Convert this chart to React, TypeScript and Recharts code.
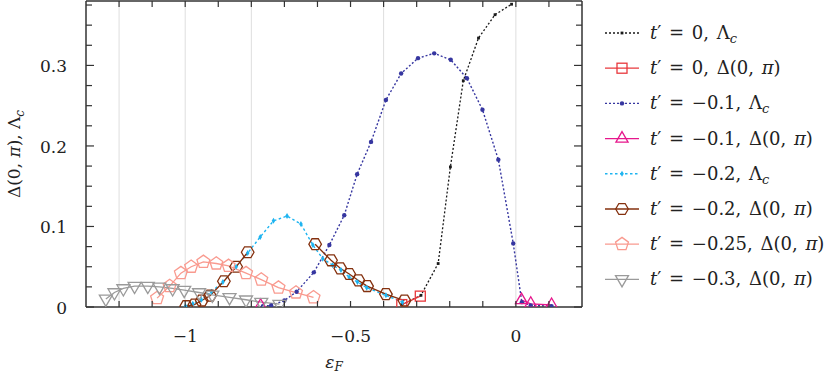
import React from 'react';
import { LineChart, Line, XAxis, YAxis, ReferenceLine } from 'recharts';

const FONT = '"DejaVu Serif", "Liberation Serif", serif';
const AXIS = '#333333';

// ---- data ----
const t0LambdaX = [-0.345, -0.287, -0.235, -0.198, -0.159, -0.113, -0.063, -0.013];
const t0LambdaY = [0.003, 0.0145, 0.054, 0.174, 0.281, 0.334, 0.363, 0.376];

const t0DeltaX = [-0.345, -0.289];
const t0DeltaY = [0.003, 0.0135];

const t01LambdaX = [-0.765, -0.74, -0.7, -0.663, -0.611, -0.564, -0.519, -0.48, -0.438, -0.393, -0.347, -0.296, -0.247, -0.197, -0.148, -0.101, -0.053, -0.008, 0.018, 0.045, 0.108];
const t01LambdaY = [0.001, 0.002, 0.008, 0.019, 0.043, 0.077, 0.114, 0.165, 0.205, 0.257, 0.29, 0.309, 0.315, 0.307, 0.284, 0.245, 0.183, 0.079, 0.006, 0.002, 0.001];

const t01DeltaX = [-0.772, -0.4, 0.017, 0.045, 0.108];
const t01DeltaY = [0.0015, null, 0.0085, 0.004, 0.0025];

const t02LambdaX = [-0.999, -0.977, -0.951, -0.921, -0.886, -0.846, -0.811, -0.773, -0.733, -0.692, -0.65, -0.614, -0.584, -0.554, -0.529, -0.504, -0.479, -0.451, -0.393, -0.343];
const t02LambdaY = [0.001, 0.004, 0.009, 0.019, 0.031, 0.05, 0.067, 0.087, 0.107, 0.113, 0.103, 0.077, 0.06, 0.052, 0.046, 0.037, 0.031, 0.024, 0.0145, 0.006];

const t02DeltaX = [-0.997, -0.972, -0.95, -0.925, -0.883, -0.846, -0.811, -0.7, -0.607, -0.559, -0.531, -0.504, -0.476, -0.45, -0.393, -0.337];
const t02DeltaY = [0.001, 0.003, 0.008, 0.014, 0.032, 0.05, 0.068, null, 0.078, 0.058, 0.048, 0.041, 0.033, 0.026, 0.016, 0.008];

const t025DeltaX = [-1.085, -1.047, -1.013, -0.982, -0.945, -0.906, -0.869, -0.816, -0.77, -0.718, -0.665, -0.612];
const t025DeltaY = [0.011, 0.026, 0.042, 0.05, 0.056, 0.054, 0.051, 0.042, 0.034, 0.024, 0.018, 0.012];

const t03DeltaX = [-1.24, -1.214, -1.187, -1.153, -1.113, -1.078, -1.038, -1.003, -0.958, -0.918, -0.866, -0.816, -0.77, -0.715];
const t03DeltaY = [0.01, 0.018, 0.023, 0.026, 0.026, 0.025, 0.023, 0.021, 0.018, 0.015, 0.012, 0.009, 0.006, 0.0035];

const xTicks = [-1.2, -1.1, -1, -0.9, -0.8, -0.7, -0.6, -0.5, -0.4, -0.3, -0.2, -0.1, 0, 0.1];
const xTickLabels: Record<string, string> = { '-1': '−1', '-0.5': '−0.5', '0': '0' };
const yTicks = [0, 0.025, 0.05, 0.075, 0.1, 0.125, 0.15, 0.175, 0.2, 0.225, 0.25, 0.275, 0.3, 0.325, 0.35, 0.375];
const yTickLabels: Record<string, string> = { '0': '0', '0.1': '0.1', '0.2': '0.2', '0.3': '0.3' };
const gridX = [-1.2, -1, -0.8, -0.4, 0];

const zip = (xs: number[], ys: (number | null)[]) => xs.map((x, i) => ({ x, y: ys[i] }));

type Kind = 'sSquare' | 'sCircle' | 'sDiamond' | 'square' | 'triUp' | 'hex' | 'pent' | 'triDown';

interface Series {
  name: string;
  tp: string;
  q: 'L' | 'D';
  data: { x: number; y: number | null }[];
  color: string;
  dash?: string;
  width: number;
  kind: Kind;
}

const series: Series[] = [
  { name: 't0L', tp: '0', q: 'L', data: zip(t0LambdaX, t0LambdaY), color: '#1a1a1a', dash: '2 2', width: 1.3, kind: 'sSquare' },
  { name: 't0D', tp: '0', q: 'D', data: zip(t0DeltaX, t0DeltaY), color: '#e8383c', width: 1.3, kind: 'square' },
  { name: 't01L', tp: '−0.1', q: 'L', data: zip(t01LambdaX, t01LambdaY), color: '#3636a0', dash: '2 2', width: 1.4, kind: 'sCircle' },
  { name: 't01D', tp: '−0.1', q: 'D', data: zip(t01DeltaX, t01DeltaY), color: '#e6178c', width: 1.3, kind: 'triUp' },
  { name: 't02L', tp: '−0.2', q: 'L', data: zip(t02LambdaX, t02LambdaY), color: '#1eb4f0', dash: '2.5 2.5', width: 1.4, kind: 'sDiamond' },
  { name: 't02D', tp: '−0.2', q: 'D', data: zip(t02DeltaX, t02DeltaY), color: '#84300e', width: 1.3, kind: 'hex' },
  { name: 't025D', tp: '−0.25', q: 'D', data: zip(t025DeltaX, t025DeltaY), color: '#f99a8f', width: 1.3, kind: 'pent' },
  { name: 't03D', tp: '−0.3', q: 'D', data: zip(t03DeltaX, t03DeltaY), color: '#9a9a9a', width: 1.3, kind: 'triDown' },
];

const poly = (cx: number, cy: number, r: number, n: number, start: number) => {
  const pts: string[] = [];
  for (let k = 0; k < n; k++) {
    const a = ((start + (360 / n) * k) * Math.PI) / 180;
    pts.push(`${(cx + r * Math.cos(a)).toFixed(2)},${(cy + r * Math.sin(a)).toFixed(2)}`);
  }
  return pts.join(' ');
};

function Marker({ kind, cx, cy, color }: { kind: Kind; cx: number; cy: number; color: string }) {
  const sw = 1.3;
  switch (kind) {
    case 'sSquare':
      return <rect x={cx - 1.4} y={cy - 1.4} width={2.8} height={2.8} fill={color} />;
    case 'sCircle':
      return <circle cx={cx} cy={cy} r={2.2} fill={color} />;
    case 'sDiamond':
      return <polygon points={`${cx},${cy - 3} ${cx + 1.8},${cy} ${cx},${cy + 3} ${cx - 1.8},${cy}`} fill={color} />;
    case 'square':
      return <rect x={cx - 5} y={cy - 5} width={10} height={10} fill="none" stroke={color} strokeWidth={sw} />;
    case 'triUp':
      return <polygon points={poly(cx, cy, 7, 3, -90)} fill="none" stroke={color} strokeWidth={sw} />;
    case 'triDown':
      return <polygon points={poly(cx, cy, 7.5, 3, 90)} fill="none" stroke={color} strokeWidth={sw} />;
    case 'hex':
      return <polygon points={poly(cx, cy, 6.3, 6, 0)} fill="none" stroke={color} strokeWidth={sw} />;
    case 'pent':
      return <polygon points={poly(cx, cy, 6.8, 5, -90)} fill="none" stroke={color} strokeWidth={sw} />;
  }
  return null;
}

const XTickBottom = (props: any) => {
  const { x, y, payload } = props;
  const label = xTickLabels[String(payload.value)];
  return (
    <g>
      <line x1={x} x2={x} y1={y} y2={y - 6} stroke={AXIS} strokeWidth={1.2} />
      {label && (
        <text x={x} y={y + 35} textAnchor="middle" fontFamily={FONT} fontSize={17} fill="#222">
          {label}
        </text>
      )}
    </g>
  );
};

const XTickTop = (props: any) => {
  const { x, y } = props;
  return <line x1={x} x2={x} y1={y} y2={y + 6} stroke={AXIS} strokeWidth={1.2} />;
};

const YTickLeft = (props: any) => {
  const { x, y, payload } = props;
  const label = yTickLabels[String(payload.value)];
  return (
    <g>
      <line x1={x} x2={x + (label ? 8 : 6)} y1={y} y2={y} stroke={AXIS} strokeWidth={1.2} />
      {label && (
        <text x={x - 19} y={y + 7} textAnchor="end" fontFamily={FONT} fontSize={17} fill="#222">
          {label}
        </text>
      )}
    </g>
  );
};

const YTickRight = (props: any) => {
  const { x, y, payload } = props;
  const major = yTickLabels[String(payload.value)];
  return <line x1={x} x2={x - (major ? 8 : 6)} y1={y} y2={y} stroke={AXIS} strokeWidth={1.2} />;
};

const LegendText = ({ s, x, y }: { s: Series; x: number; y: number }) => (
  <text x={x} y={y} fontFamily={FONT} fontSize={18} wordSpacing={2} fill="#222">
    <tspan fontStyle="italic">t</tspan>
    <tspan>{'′ = ' + s.tp + ', '}</tspan>
    {s.q === 'L' ? (
      <>
        <tspan>Λ</tspan>
        <tspan fontStyle="italic" fontSize={13} dy={4}>c</tspan>
      </>
    ) : (
      <>
        <tspan>Δ(0, </tspan>
        <tspan fontStyle="italic">π</tspan>
        <tspan>)</tspan>
      </>
    )}
  </text>
);

export default function App() {
  return (
    <div style={{ position: 'absolute', left: 0, top: 0, width: 831, height: 377, background: '#fff' }}>
      <LineChart width={831} height={377} margin={{ top: 0, right: 248, bottom: 0, left: 0 }}>
        <XAxis
          xAxisId="b"
          dataKey="x"
          type="number"
          domain={[-1.3, 0.2]}
          ticks={xTicks}
          interval={0}
          allowDataOverflow
          height={70}
          tickSize={0}
          tickMargin={0}
          tickLine={false}
          tick={XTickBottom}
          axisLine={{ stroke: AXIS, strokeWidth: 1.5 }}
        />
        <XAxis
          xAxisId="t"
          orientation="top"
          dataKey="x"
          type="number"
          domain={[-1.3, 0.2]}
          ticks={xTicks}
          interval={0}
          allowDataOverflow
          height={1}
          tickSize={0}
          tickMargin={0}
          tickLine={false}
          tick={XTickTop}
          axisLine={{ stroke: AXIS, strokeWidth: 1.5 }}
        />
        <YAxis
          yAxisId="l"
          type="number"
          domain={[0, 0.38]}
          ticks={yTicks}
          interval={0}
          allowDataOverflow
          width={86}
          tickSize={0}
          tickMargin={0}
          tickLine={false}
          tick={YTickLeft}
          axisLine={{ stroke: AXIS, strokeWidth: 1.5 }}
        />
        <YAxis
          yAxisId="r"
          orientation="right"
          type="number"
          domain={[0, 0.38]}
          ticks={yTicks}
          interval={0}
          allowDataOverflow
          width={1}
          tickSize={0}
          tickMargin={0}
          tickLine={false}
          tick={YTickRight}
          axisLine={{ stroke: AXIS, strokeWidth: 1.5 }}
        />
        {gridX.map((g) => (
          <ReferenceLine key={g} x={g} xAxisId="b" yAxisId="l" stroke="#dedede" strokeWidth={1} />
        ))}
        {series.map((s) => (
          <Line
            key={s.name}
            xAxisId="b"
            yAxisId="l"
            data={s.data}
            dataKey="y"
            type="linear"
            stroke={s.color}
            strokeWidth={s.width}
            strokeDasharray={s.dash}
            connectNulls={false}
            isAnimationActive={false}
            activeDot={false}
            dot={(p: any) => {
              if (p.cx == null || p.cy == null || p.value == null || Number.isNaN(p.cx) || Number.isNaN(p.cy)) {
                return <g key={`${s.name}-${p.index}`} />;
              }
              return (
                <g key={`${s.name}-${p.index}`}>
                  <Marker kind={s.kind} cx={p.cx} cy={p.cy} color={s.color} />
                </g>
              );
            }}
          />
        ))}
      </LineChart>
      <svg width={831} height={377} style={{ position: 'absolute', left: 0, top: 0, pointerEvents: 'none' }}>
        {series.map((s, i) => {
          const cy = 33 + i * 35.2;
          return (
            <g key={s.name}>
              <line x1={605} x2={639} y1={cy} y2={cy} stroke={s.color} strokeWidth={s.width} strokeDasharray={s.dash} />
              <Marker kind={s.kind} cx={622} cy={cy} color={s.color} />
              <LegendText s={s} x={650} y={cy + 6} />
            </g>
          );
        })}
        <text x={334} y={368} textAnchor="middle" fontFamily={FONT} fontSize={17} fill="#222">
          <tspan fontStyle="italic">ε</tspan>
          <tspan fontStyle="italic" fontSize={12} dy={3}>F</tspan>
        </text>
        <text transform="translate(20,154) rotate(-90)" textAnchor="middle" fontFamily={FONT} fontSize={17} fill="#222">
          <tspan>Δ(0, </tspan>
          <tspan fontStyle="italic">π</tspan>
          <tspan>), Λ</tspan>
          <tspan fontStyle="italic" fontSize={12} dy={4}>c</tspan>
        </text>
      </svg>
    </div>
  );
}
